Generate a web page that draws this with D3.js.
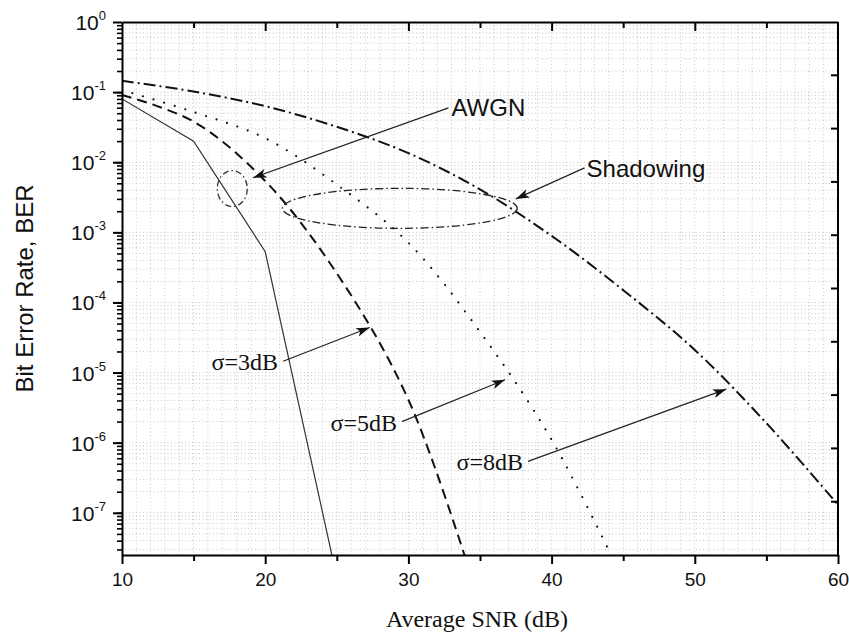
<!DOCTYPE html>
<html>
<head>
<meta charset="utf-8">
<script src="https://cdn.jsdelivr.net/npm/d3@7"></script>
<style>
  body { margin: 0; background: #fff; }
  svg { display: block; }
</style>
</head>
<body>
<div id="chart"></div>
<script>
// SNR points (dB) and BER values
var snrAwgn = [10, 15, 20, 25];
var berAwgn = [0.08, 0.02, 5.3e-4, 1.2e-8];

var snrShadow = [10, 15, 20, 25, 30, 35, 40, 45, 50, 55, 60];
var berSigma3 = [0.091, 0.038, 5.4e-3, 2.6e-4, 4.1e-6, 5.0e-9, null, null, null, null, null];
var berSigma5 = [0.107, 0.052, 0.022, 4.8e-3, 7.1e-4, 3.8e-5, 1.1e-6, 1.1e-8, null, null, null];
var berSigma8 = [0.145, 0.102, 0.063, 0.032, 0.0135, 4.1e-3, 8.9e-4, 1.5e-4, 2.1e-5, 1.9e-6, 1.3e-7];

var xTicks = [10, 20, 30, 40, 50, 60];
var yExponents = [0, -1, -2, -3, -4, -5, -6, -7];

// annotation anchors in data units: [snr, ber]
var awgnArrow = [[32.8, 0.0596], [19.15, 6.0e-3]];
var shadowArrow = [[42.3, 8.3e-3], [37.5, 3.0e-3]];
var sigmaLabels = ["σ=3dB", "σ=5dB", "σ=8dB"];
var sigmaArrows = [
  [[21.25, 1.45e-5], [27.3, 4.4e-5]],
  [[29.55, 2.0e-6], [36.75, 7.9e-6]],
  [[38.35, 5.4e-7], [52.2, 5.8e-6]]
];
var awgnRing = {snr: 17.7, ber: 4.2e-3};
var shadowRing = {snr: 29.4, ber: 2.2e-3, halfWidth: 8.2};

var width = 849, height = 635;
var margin = {top: 22, right: 11, bottom: 80, left: 122};

var svg = d3.select("#chart").append("svg")
  .attr("width", width)
  .attr("height", height);

var x = d3.scaleLinear().domain([10, 60]).range([margin.left, width - margin.right]);
var y = d3.scaleLog().domain([2.5e-8, 1]).range([height - margin.bottom, margin.top]);

var x0 = x.range()[0], x1 = x.range()[1];
var yTop = y.range()[1], yBot = y.range()[0];

// dotted grid
var grid = svg.append("g").attr("stroke", "#c8c8c8").attr("stroke-width", 1)
  .attr("stroke-dasharray", "1,2.5");
d3.range(11, 60).forEach(function(v) {
  grid.append("line").attr("x1", x(v)).attr("x2", x(v)).attr("y1", yTop).attr("y2", yBot);
});
var minorVals = [];
yExponents.concat([-8]).forEach(function(e) {
  for (var m = 1; m < 10; m++) {
    var v = m * Math.pow(10, e);
    if (v > 2.5e-8 && v < 1) minorVals.push(v);
  }
});
minorVals.forEach(function(v) {
  grid.append("line").attr("x1", x0).attr("x2", x1).attr("y1", y(v)).attr("y2", y(v));
});

// curves
var line = d3.line()
  .defined(function(d) { return d[1] != null; })
  .x(function(d) { return x(d[0]); })
  .y(function(d) { return y(Math.max(d[1], 1e-9)); });

var smooth = d3.line()
  .defined(function(d) { return d[1] != null; })
  .curve(d3.curveCatmullRom.alpha(0.5))
  .x(function(d) { return x(d[0]); })
  .y(function(d) { return y(d[1]); });

svg.append("clipPath").attr("id", "plot")
  .append("rect").attr("x", x0).attr("y", yTop).attr("width", x1 - x0).attr("height", yBot - yTop);

var curves = svg.append("g").attr("clip-path", "url(#plot)").attr("fill", "none");

curves.append("path")
  .attr("d", line(d3.zip(snrAwgn, berAwgn)))
  .attr("stroke", "#333").attr("stroke-width", 1.2);

curves.append("path")
  .attr("d", smooth(d3.zip(snrShadow, berSigma3)))
  .attr("stroke", "#111").attr("stroke-width", 2)
  .attr("stroke-dasharray", "10,6");

curves.append("path")
  .attr("d", smooth(d3.zip(snrShadow, berSigma5)))
  .attr("stroke", "#111").attr("stroke-width", 2.2)
  .attr("stroke-linecap", "round")
  .attr("stroke-dasharray", "0,11");

curves.append("path")
  .attr("d", smooth(d3.zip(snrShadow, berSigma8)))
  .attr("stroke", "#111").attr("stroke-width", 2)
  .attr("stroke-dasharray", "12,4,2,4");

// axes
svg.append("g")
  .attr("transform", "translate(0," + yBot + ")")
  .call(d3.axisBottom(x).tickValues(xTicks).tickSize(9).tickSizeOuter(0).tickPadding(9))
  .call(function(g) {
    g.select(".domain").attr("stroke-width", 2);
    g.selectAll(".tick line").attr("stroke-width", 2);
    g.selectAll("text").attr("font-family", "Liberation Sans, Arial, sans-serif")
      .attr("font-size", 19).attr("fill", "#111");
  });
svg.append("g")
  .attr("transform", "translate(0," + yBot + ")")
  .call(d3.axisBottom(x).tickValues([15, 25, 35, 45, 55]).tickSize(6).tickFormat(""))
  .call(function(g) {
    g.select(".domain").remove();
    g.selectAll(".tick line").attr("stroke-width", 2);
  });

// top axis, ticks inward
svg.append("g")
  .attr("transform", "translate(0," + yTop + ")")
  .call(d3.axisTop(x).tickValues([15, 20, 25, 30, 35, 40, 45, 50, 55]).tickSize(0).tickFormat(""))
  .call(function(g) {
    g.select(".domain").attr("stroke-width", 2);
    g.selectAll(".tick line")
      .attr("y2", function(d) { return d % 10 === 0 ? 9 : 6; })
      .attr("stroke-width", 2);
  });

// left axis with log minor ticks
var yAxis = svg.append("g").attr("transform", "translate(" + x0 + ",0)");
yAxis.call(d3.axisLeft(y).tickValues(minorVals).tickSize(5).tickFormat("").tickSizeOuter(0))
  .call(function(g) {
    g.select(".domain").attr("stroke-width", 2);
    g.selectAll(".tick line").attr("stroke-width", 1.6);
  });
svg.append("g").attr("transform", "translate(" + x0 + ",0)")
  .call(d3.axisLeft(y).tickValues(yExponents.map(function(e) { return Math.pow(10, e); }))
    .tickSize(9).tickFormat("").tickSizeOuter(0))
  .call(function(g) {
    g.select(".domain").remove();
    g.selectAll(".tick line").attr("stroke-width", 2);
  });

var yLabels = svg.append("g")
  .attr("font-family", "Liberation Sans, Arial, sans-serif")
  .attr("fill", "#111");
yExponents.forEach(function(e) {
  var t = yLabels.append("text")
    .attr("x", x0 - 16)
    .attr("y", y(Math.pow(10, e)) + 8)
    .attr("text-anchor", "end")
    .attr("font-size", 21);
  t.append("tspan").text("10");
  t.append("tspan").attr("font-size", 13).attr("dy", -10).text(String(e));
});

// right axis, inward ticks evenly spaced
svg.append("line").attr("x1", x1).attr("x2", x1).attr("y1", yTop).attr("y2", yBot)
  .attr("stroke", "#000").attr("stroke-width", 2);
d3.range(1, 10).forEach(function(i) {
  var yy = yTop + (yBot - yTop) * i / 10;
  svg.append("line").attr("x1", x1 - 7).attr("x2", x1).attr("y1", yy).attr("y2", yy)
    .attr("stroke", "#000").attr("stroke-width", 2);
});

// axis titles
svg.append("text")
  .attr("x", (x0 + x1) / 2 - 3)
  .attr("y", height - 8)
  .attr("text-anchor", "middle")
  .attr("font-family", "Liberation Serif, Times New Roman, serif")
  .attr("font-size", 24)
  .attr("fill", "#111")
  .text("Average SNR (dB)");

svg.append("text")
  .attr("transform", "translate(33," + (yTop + yBot) / 2 + ") rotate(-90)")
  .attr("text-anchor", "middle")
  .attr("font-family", "Liberation Sans, Arial, sans-serif")
  .attr("font-size", 24)
  .attr("fill", "#111")
  .text("Bit Error Rate, BER");

// arrowhead marker
svg.append("defs").append("marker")
  .attr("id", "head")
  .attr("viewBox", "0 0 12 8")
  .attr("refX", 12).attr("refY", 4)
  .attr("markerWidth", 14).attr("markerHeight", 9)
  .attr("markerUnits", "userSpaceOnUse")
  .attr("orient", "auto")
  .append("path").attr("d", "M0,0L12,4L0,8L3,4Z").attr("fill", "#111");

function arrow(pts) {
  svg.append("line")
    .attr("x1", x(pts[0][0])).attr("y1", y(pts[0][1]))
    .attr("x2", x(pts[1][0])).attr("y2", y(pts[1][1]))
    .attr("stroke", "#222").attr("stroke-width", 1.2)
    .attr("marker-end", "url(#head)");
}

// rings
svg.append("ellipse")
  .attr("cx", x(awgnRing.snr)).attr("cy", y(awgnRing.ber))
  .attr("rx", 15).attr("ry", 18)
  .attr("fill", "none").attr("stroke", "#333").attr("stroke-width", 1.3)
  .attr("stroke-dasharray", "6,3,1.5,3");
svg.append("ellipse")
  .attr("cx", x(shadowRing.snr)).attr("cy", y(shadowRing.ber))
  .attr("rx", x(shadowRing.snr + shadowRing.halfWidth) - x(shadowRing.snr)).attr("ry", 20)
  .attr("fill", "none").attr("stroke", "#222").attr("stroke-width", 1.3)
  .attr("stroke-dasharray", "8,3,1.5,3");

// AWGN and Shadowing labels
arrow(awgnArrow);
svg.append("text")
  .attr("x", x(awgnArrow[0][0]) + 3).attr("y", y(awgnArrow[0][1]) + 8)
  .attr("font-family", "Liberation Sans, Arial, sans-serif")
  .attr("font-size", 24).attr("fill", "#111").text("AWGN");

arrow(shadowArrow);
svg.append("text")
  .attr("x", x(shadowArrow[0][0]) + 2).attr("y", y(shadowArrow[0][1]) + 9)
  .attr("font-family", "Liberation Sans, Arial, sans-serif")
  .attr("font-size", 24).attr("fill", "#111").text("Shadowing");

// sigma labels
sigmaArrows.forEach(function(pts, i) {
  arrow(pts);
  svg.append("text")
    .attr("x", x(pts[0][0]) - 5).attr("y", y(pts[0][1]) + 9)
    .attr("text-anchor", "end")
    .attr("font-family", "Liberation Serif, Times New Roman, serif")
    .attr("font-size", 24).attr("fill", "#111")
    .text(sigmaLabels[i]);
});
</script>
</body>
</html>
